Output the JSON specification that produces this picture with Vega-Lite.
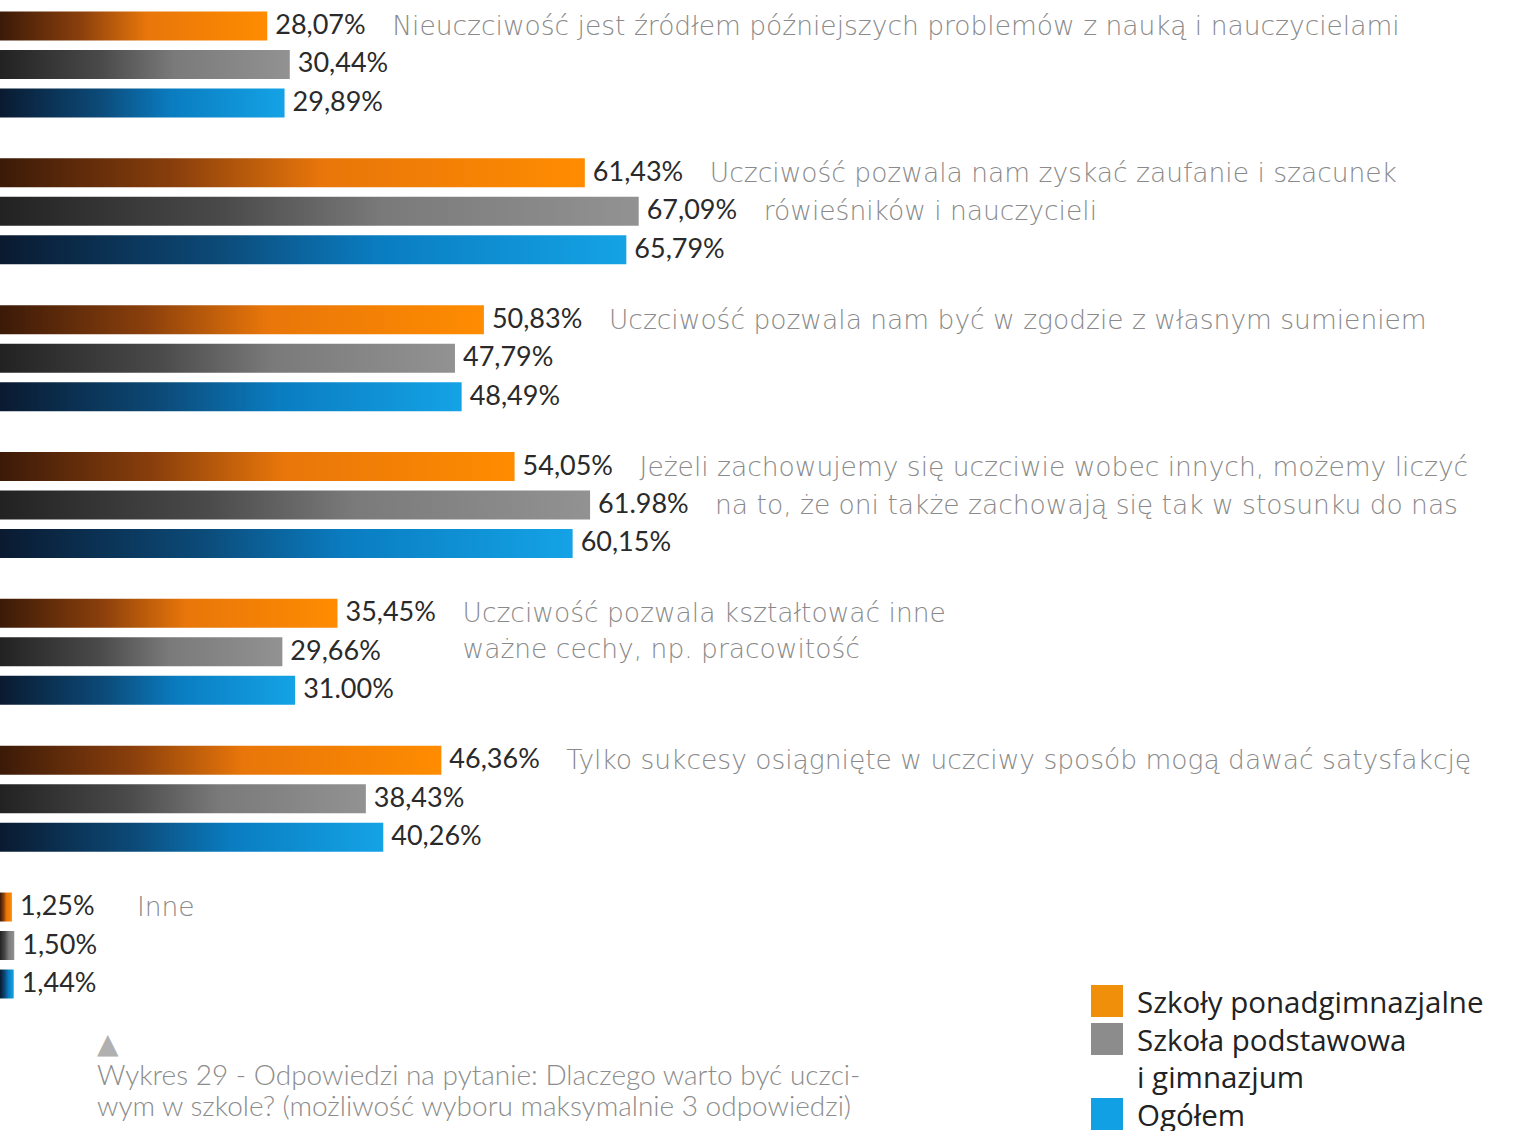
{
  "$schema": "https://vega.github.io/schema/vega-lite/v6.json",
  "autosize": {"type": "none"},
  "padding": {"left": 0, "top": 0, "right": 0, "bottom": 121},
  "width": 1518,
  "height": 1010,
  "background": "white",
  "config": {
    "view": {"stroke": null},
    "font": "Lato",
    "text": {"font": "Lato"}
  },
  "title": {
    "text": "▲",
    "subtitle": ["Wykres 29 - Odpowiedzi na pytanie: Dlaczego warto być uczci-", "wym w szkole? (możliwość wyboru maksymalnie 3 odpowiedzi)"],
    "orient": "bottom",
    "anchor": "start",
    "dx": 97,
    "offset": -101,
    "font": "DejaVu Sans",
    "fontSize": 28,
    "color": "#b0b0b0",
    "subtitleFont": "Lato",
    "subtitleFontWeight": 300,
    "subtitleFontSize": 28,
    "subtitleLineHeight": 31,
    "subtitleColor": "#8c8c8c",
    "subtitlePadding": 4
  },
  "data": {
    "values": [
      {"grupa": "g1", "seria": "Szkoły ponadgimnazjalne", "wartosc": 28.07, "etykieta": "28,07%", "opis": ["Nieuczciwość jest źródłem późniejszych problemów z nauką i nauczycielami"]},
      {"grupa": "g1", "seria": "Szkoła podstawowa i gimnazjum", "wartosc": 30.44, "etykieta": "30,44%"},
      {"grupa": "g1", "seria": "Ogółem", "wartosc": 29.89, "etykieta": "29,89%"},
      {"grupa": "g2", "seria": "Szkoły ponadgimnazjalne", "wartosc": 61.43, "etykieta": "61,43%", "opis": ["Uczciwość pozwala nam zyskać zaufanie i szacunek"]},
      {"grupa": "g2", "seria": "Szkoła podstawowa i gimnazjum", "wartosc": 67.09, "etykieta": "67,09%", "opis": ["rówieśników i nauczycieli"]},
      {"grupa": "g2", "seria": "Ogółem", "wartosc": 65.79, "etykieta": "65,79%"},
      {"grupa": "g3", "seria": "Szkoły ponadgimnazjalne", "wartosc": 50.83, "etykieta": "50,83%", "opis": ["Uczciwość pozwala nam być w zgodzie z własnym sumieniem"]},
      {"grupa": "g3", "seria": "Szkoła podstawowa i gimnazjum", "wartosc": 47.79, "etykieta": "47,79%"},
      {"grupa": "g3", "seria": "Ogółem", "wartosc": 48.49, "etykieta": "48,49%"},
      {"grupa": "g4", "seria": "Szkoły ponadgimnazjalne", "wartosc": 54.05, "etykieta": "54,05%", "opis": ["Jeżeli zachowujemy się uczciwie wobec innych, możemy liczyć"]},
      {"grupa": "g4", "seria": "Szkoła podstawowa i gimnazjum", "wartosc": 61.98, "etykieta": "61.98%", "opis": ["na to, że oni także zachowają się tak w stosunku do nas"]},
      {"grupa": "g4", "seria": "Ogółem", "wartosc": 60.15, "etykieta": "60,15%"},
      {"grupa": "g5", "seria": "Szkoły ponadgimnazjalne", "wartosc": 35.45, "etykieta": "35,45%", "opis": ["Uczciwość pozwala kształtować inne", "ważne cechy, np. pracowitość"]},
      {"grupa": "g5", "seria": "Szkoła podstawowa i gimnazjum", "wartosc": 29.66, "etykieta": "29,66%"},
      {"grupa": "g5", "seria": "Ogółem", "wartosc": 31.0, "etykieta": "31.00%"},
      {"grupa": "g6", "seria": "Szkoły ponadgimnazjalne", "wartosc": 46.36, "etykieta": "46,36%", "opis": ["Tylko sukcesy osiągnięte w uczciwy sposób mogą dawać satysfakcję"]},
      {"grupa": "g6", "seria": "Szkoła podstawowa i gimnazjum", "wartosc": 38.43, "etykieta": "38,43%"},
      {"grupa": "g6", "seria": "Ogółem", "wartosc": 40.26, "etykieta": "40,26%"},
      {"grupa": "g7", "seria": "Szkoły ponadgimnazjalne", "wartosc": 1.25, "etykieta": "1,25%", "opis": ["Inne"]},
      {"grupa": "g7", "seria": "Szkoła podstawowa i gimnazjum", "wartosc": 1.5, "etykieta": "1,50%"},
      {"grupa": "g7", "seria": "Ogółem", "wartosc": 1.44, "etykieta": "1,44%"}
    ]
  },
  "encoding": {
    "y": {
      "field": "grupa",
      "type": "nominal",
      "axis": null,
      "scale": {"domain": ["g1", "g2", "g3", "g4", "g5", "g6", "g7"], "paddingInner": 0.2137, "paddingOuter": 0.046}
    },
    "yOffset": {
      "field": "seria",
      "type": "nominal",
      "scale": {"domain": ["Szkoły ponadgimnazjalne", "Szkoła podstawowa i gimnazjum", "Ogółem"], "paddingInner": 0.247, "paddingOuter": 0.1235}
    }
  },
  "layer": [
    {
      "transform": [{"filter": "datum.seria == 'Szkoły ponadgimnazjalne'"}],
      "mark": {
        "type": "bar",
        "color": {"gradient": "linear", "x1": 0, "y1": 0, "x2": 1, "y2": 0,
          "stops": [{"offset": 0, "color": "#3b1a08"}, {"offset": 0.3, "color": "#8a3f0c"}, {"offset": 0.55, "color": "#e8760a"}, {"offset": 1, "color": "#ff8c00"}]}
      },
      "encoding": {
        "x": {"field": "wartosc", "type": "quantitative", "axis": null, "scale": {"domain": [0, 159.45], "nice": false, "zero": true}}
      }
    },
    {
      "transform": [{"filter": "datum.seria == 'Szkoła podstawowa i gimnazjum'"}],
      "mark": {
        "type": "bar",
        "color": {"gradient": "linear", "x1": 0, "y1": 0, "x2": 1, "y2": 0,
          "stops": [{"offset": 0, "color": "#222222"}, {"offset": 0.35, "color": "#4a4a4a"}, {"offset": 0.6, "color": "#7a7a7a"}, {"offset": 1, "color": "#929292"}]}
      },
      "encoding": {
        "x": {"field": "wartosc", "type": "quantitative"}
      }
    },
    {
      "transform": [{"filter": "datum.seria == 'Ogółem'"}],
      "mark": {
        "type": "bar",
        "color": {"gradient": "linear", "x1": 0, "y1": 0, "x2": 1, "y2": 0,
          "stops": [{"offset": 0, "color": "#0a1a30"}, {"offset": 0.35, "color": "#0c4a78"}, {"offset": 0.6, "color": "#0a7cc0"}, {"offset": 1, "color": "#14a3e6"}]}
      },
      "encoding": {
        "x": {"field": "wartosc", "type": "quantitative"}
      }
    },
    {
      "mark": {"type": "bar"},
      "encoding": {
        "x": {"datum": 0},
        "x2": {"datum": 0},
        "color": {
          "field": "seria",
          "type": "nominal",
          "scale": {"domain": ["Szkoły ponadgimnazjalne", "Szkoła podstawowa i gimnazjum", "Ogółem"], "range": ["#f0900a", "#8c8c8c", "#12a0e4"]},
          "legend": {
            "title": null,
            "orient": "none",
            "legendX": 1091,
            "legendY": 985,
            "padding": 0,
            "symbolType": "square",
            "symbolSize": 1024,
            "symbolStrokeWidth": 0,
            "labelFont": "Open Sans",
            "labelFontSize": 29.5,
            "labelColor": "#222222",
            "labelOffset": 14,
            "labelLimit": 500,
            "rowPadding": 4,
            "labelExpr": "datum.label == 'Szkoła podstawowa i gimnazjum' ? ['Szkoła podstawowa', 'i gimnazjum'] : datum.label",
            "encode": {"labels": {"update": {"lineHeight": {"value": 37}, "dy": {"value": 3}}}}
          }
        }
      }
    },
    {
      "mark": {"type": "text", "align": "left", "baseline": "middle", "dx": 8, "fontSize": 27, "color": "#2a2a2a"},
      "encoding": {
        "x": {"field": "wartosc", "type": "quantitative"},
        "text": {"field": "etykieta", "type": "nominal"}
      }
    },
    {
      "transform": [{"filter": "isValid(datum.opis)"}],
      "mark": {"type": "text", "align": "left", "baseline": "middle", "dx": 125, "dy": 1, "font": "DejaVu Sans", "fontSize": 26.5, "fontWeight": 200, "lineHeight": 36, "color": "#8a8a8a"},
      "encoding": {
        "x": {"field": "wartosc", "type": "quantitative"},
        "text": {"field": "opis", "type": "nominal"}
      }
    }
  ]
}
